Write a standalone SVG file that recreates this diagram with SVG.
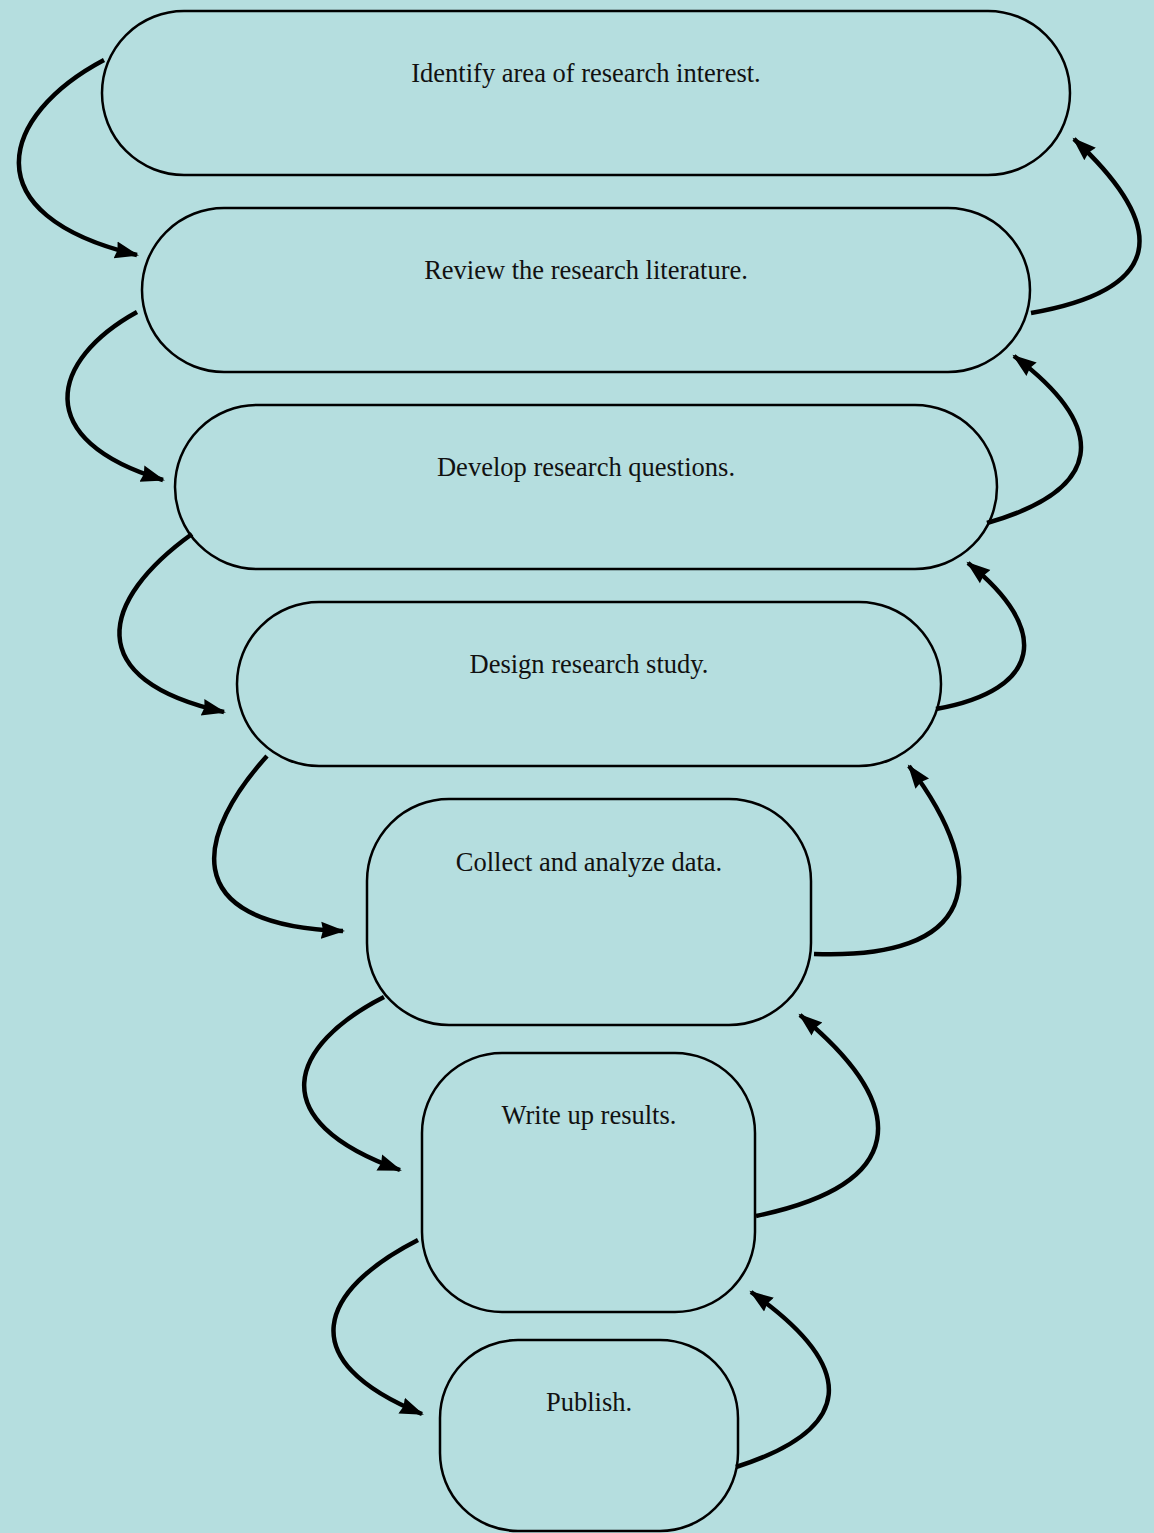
<svg xmlns="http://www.w3.org/2000/svg" width="1154" height="1533" viewBox="0 0 1154 1533">
<defs>
<marker id="ah" markerUnits="userSpaceOnUse" markerWidth="26" markerHeight="20" viewBox="0 0 26 20" refX="22" refY="10" orient="auto">
<path d="M0,1.5 L24,10 L0,18.5 L2,10 Z" fill="#000"/>
</marker>
<style>
.node rect{fill:#b5dedf;stroke:#000;stroke-width:2.5}
.node text{font-family:"Liberation Serif","Times New Roman",serif;font-size:26.5px;fill:#111;text-anchor:middle}
.conn path{fill:none;stroke:#000;stroke-width:4.5;marker-end:url(#ah)}
</style>
</defs>
<rect width="1154" height="1533" fill="#b5dedf"/>
<g id="n1" class="node"><rect x="102" y="11" width="968" height="164" rx="82"/><text x="586" y="82">Identify area of research interest.</text></g>
<g id="n2" class="node"><rect x="142" y="208" width="888" height="164" rx="82"/><text x="586" y="279">Review the research literature.</text></g>
<g id="n3" class="node"><rect x="175" y="405" width="822" height="164" rx="82"/><text x="586" y="476">Develop research questions.</text></g>
<g id="n4" class="node"><rect x="237" y="602" width="704" height="164" rx="82"/><text x="589" y="673">Design research study.</text></g>
<g id="n5" class="node"><rect x="367" y="799" width="444" height="226" rx="82"/><text x="589" y="871">Collect and analyze data.</text></g>
<g id="n6" class="node"><rect x="422" y="1053" width="333" height="259" rx="80"/><text x="589" y="1124">Write up results.</text></g>
<g id="n7" class="node"><rect x="440" y="1340" width="298" height="191" rx="78"/><text x="589" y="1411">Publish.</text></g>
<g id="connectors" class="conn">
<path d="M104,60 C0,115 -30,215 137,255"/>
<path d="M137,312 C50,360 30,440 163,480"/>
<path d="M192,534 C100,600 80,680 224,712"/>
<path d="M267,756 C200,830 170,925 343,931"/>
<path d="M384,997 C290,1045 260,1120 400,1170"/>
<path d="M418,1240 C320,1290 290,1360 422,1414"/>
<path d="M1031,313 C1162,290 1172,230 1074,139"/>
<path d="M987,523 C1102,490 1112,430 1014,356"/>
<path d="M936,709 C1042,690 1052,630 968,563"/>
<path d="M814,954 C975,960 995,880 909,766"/>
<path d="M756,1216 C905,1185 915,1110 800,1015"/>
<path d="M736,1467 C852,1430 862,1370 751,1292"/>
</g>
</svg>
